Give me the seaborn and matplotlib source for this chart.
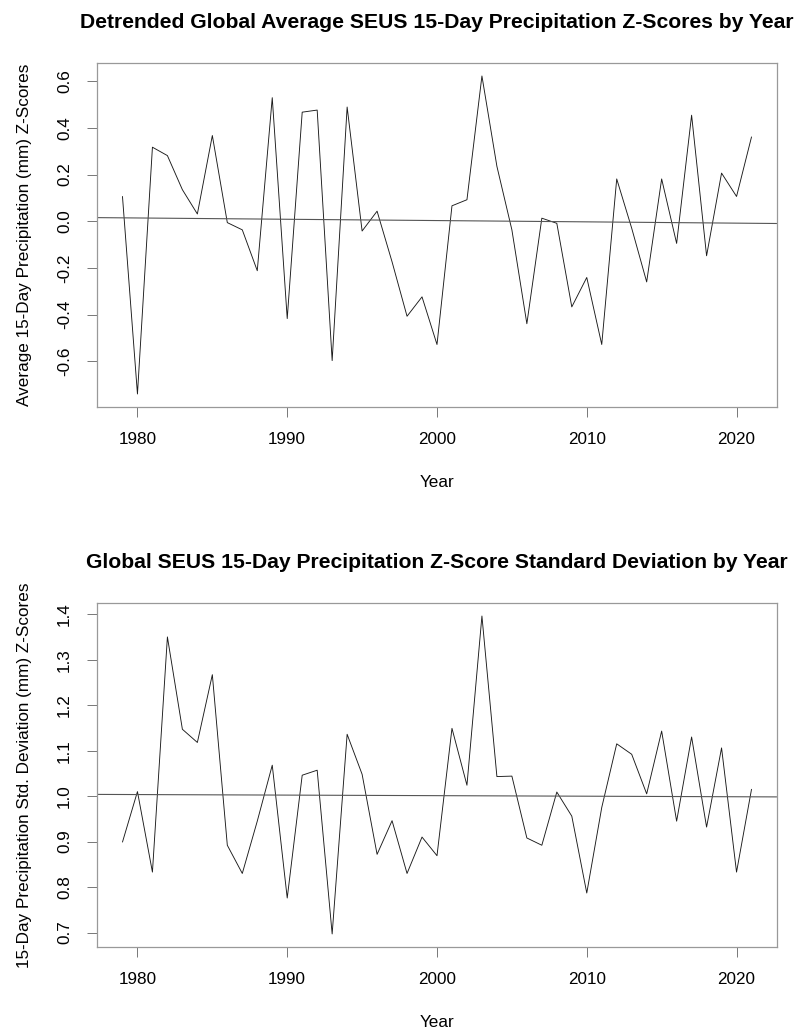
import numpy as np
import pandas as pd
import seaborn as sns
import matplotlib
matplotlib.use("Agg")
import matplotlib.pyplot as plt

years = list(range(1979, 2022))

# detrended mean z-score per year (top panel)
z_mean = [0.106, -0.740, 0.317, 0.281, 0.135, 0.031, 0.367, -0.006, -0.037, -0.212,
          0.529, -0.417, 0.467, 0.476, -0.597, 0.489, -0.042, 0.043, -0.174, -0.407,
          -0.324, -0.528, 0.066, 0.092, 0.622, 0.235, -0.037, -0.439, 0.013, -0.009,
          -0.367, -0.241, -0.528, 0.181, -0.030, -0.260, 0.181, -0.095, 0.454, -0.148,
          0.206, 0.106, 0.361]

# z-score standard deviation per year (bottom panel)
z_std = [0.899, 1.010, 0.833, 1.350, 1.147, 1.118, 1.267, 0.892, 0.830, 0.945,
         1.068, 0.776, 1.046, 1.057, 0.697, 1.136, 1.048, 0.872, 0.946, 0.830,
         0.910, 0.869, 1.149, 1.024, 1.396, 1.043, 1.044, 0.908, 0.892, 1.009,
         0.956, 0.787, 0.975, 1.115, 1.092, 1.005, 1.143, 0.945, 1.130, 0.932,
         1.106, 0.833, 1.015]

top_ticks = [-0.6, -0.4, -0.2, 0.0, 0.2, 0.4, 0.6]
bot_ticks = [0.7, 0.8, 0.9, 1.0, 1.1, 1.2, 1.3, 1.4]
x_ticks = [1980, 1990, 2000, 2010, 2020]

titles = ["Detrended Global Average SEUS 15-Day Precipitation Z-Scores by Year",
          "Global SEUS 15-Day Precipitation Z-Score Standard Deviation by Year"]
ylabels = ["Average 15-Day Precipitation (mm) Z-Scores",
           "15-Day Precipitation Std. Deviation (mm) Z-Scores"]

sns.set_style("white")
plt.rcParams['font.family'] = ['Liberation Sans', 'DejaVu Sans']
plt.rcParams['axes.unicode_minus'] = False
plt.rcParams['text.color'] = 'black'
plt.rcParams['axes.labelcolor'] = 'black'
plt.rcParams['xtick.color'] = 'black'
plt.rcParams['ytick.color'] = 'black'

fig = plt.figure(figsize=(7.97, 10.32), dpi=100)
ax1 = fig.add_axes([0.1221, 0.6059, 0.8524, 0.3328])
ax2 = fig.add_axes([0.1221, 0.0827, 0.8524, 0.3327])


def r_lim(v):
    # R style 4% padding
    lo, hi = min(v), max(v)
    pad = 0.04 * (hi - lo)
    return lo - pad, hi + pad


def panel(ax, vals, yticks, title, ylabel):
    df = pd.DataFrame({"Year": years, "val": vals})
    ax.set_xlim(*r_lim(years))
    ax.set_ylim(*r_lim(vals))
    sns.lineplot(data=df, x="Year", y="val", ax=ax, color="#1a1a1a", linewidth=0.65)
    sns.regplot(data=df, x="Year", y="val", ax=ax, scatter=False, ci=None,
                truncate=False, line_kws={"color": "#555555", "linewidth": 0.8})
    ax.set_xlim(*r_lim(years))
    ax.set_ylim(*r_lim(vals))

    ax.set_xticks(x_ticks)
    ax.set_xticklabels([str(t) for t in x_ticks])
    ax.set_yticks(yticks)
    ax.set_yticklabels([f"{t:.1f}" for t in yticks], rotation=90, va="center")
    ax.tick_params(axis="both", which="both", direction="out", length=7.2, width=0.7,
                   color="#777777", labelcolor="black", labelsize=12.3, pad=11,
                   left=True, bottom=True)
    for s in ax.spines.values():
        s.set_color("#999999")
        s.set_linewidth(0.9)

    ax.set_title(title, fontsize=15.2, fontweight="bold", pad=25.5, color="black")
    ax.set_xlabel("Year", fontsize=12.3)
    ax.set_ylabel(ylabel, fontsize=12.3)
    ax.xaxis.set_label_coords(0.5, -0.20)
    ax.yaxis.set_label_coords(-0.096, 0.5)


panel(ax1, z_mean, top_ticks, titles[0], ylabels[0])
panel(ax2, z_std, bot_ticks, titles[1], ylabels[1])

fig.savefig("out.png", dpi=100)
